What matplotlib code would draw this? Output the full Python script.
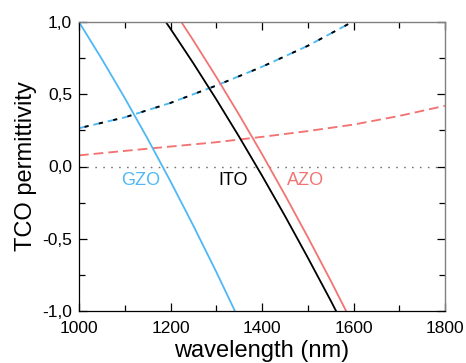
import matplotlib
matplotlib.use("Agg")
import matplotlib.pyplot as plt
from matplotlib.ticker import FixedLocator, FixedFormatter, MultipleLocator

plt.rcParams['font.family'] = ['Liberation Sans', 'DejaVu Sans']
plt.rcParams['lines.scale_dashes'] = False

# real parts (solid)
wl_gzo = [1000, 1050, 1100, 1150, 1200, 1250, 1300, 1350]
re_gzo = [1.0, 0.743, 0.474, 0.192, -0.103, -0.41, -0.729, -1.061]
wl_ito = [1150, 1200, 1250, 1300, 1350, 1400, 1450, 1500, 1550, 1600]
re_ito = [1.183, 0.953, 0.714, 0.465, 0.206, -0.063, -0.341, -0.63, -0.927, -1.235]
wl_azo = [1200, 1250, 1300, 1350, 1400, 1450, 1500, 1550, 1600]
re_azo = [1.115, 0.872, 0.62, 0.358, 0.086, -0.196, -0.488, -0.789, -1.101]

# imaginary parts (dashed)
wl_im = [1000, 1100, 1200, 1300, 1400, 1500, 1600, 1700, 1800]
im_gzo = [0.265, 0.34, 0.44, 0.56, 0.69, 0.835, 1.005, 1.2, 1.42]
im_ito = [0.265, 0.34, 0.44, 0.56, 0.69, 0.835, 1.005, 1.2, 1.42]
im_azo = [0.077, 0.108, 0.138, 0.168, 0.205, 0.245, 0.29, 0.35, 0.42]

labels = ["GZO", "ITO", "AZO"]
label_wl = [1135, 1337, 1496]
label_y = [-0.095, -0.095, -0.095]

xticks = [1000, 1200, 1400, 1600, 1800]
yticks = [-1.0, -0.5, 0.0, 0.5, 1.0]
ytick_labels = ["-1,0", "-0,5", "0,0", "0,5", "1,0"]

blue = "#4db8f5"
red = "#f27372"
black = "#000000"

fig = plt.figure(figsize=(4.66, 3.63), dpi=100)
ax = fig.add_axes([79/466, 52/363, 366/466, 289/363])

ax.axhline(0, color="#777777", lw=1.0, ls=(0, (1.2, 4.5)), zorder=1)

ax.plot(wl_im, im_azo, color=red, lw=1.35, ls=(0, (7.0, 3.6)))
ax.plot(wl_im, im_gzo, color=blue, lw=1.35, ls=(0, (7.0, 3.6)))
ax.plot(wl_im, im_ito, color=black, lw=1.35, ls=(6.5, (3.0, 7.6)))

ax.plot(wl_gzo, re_gzo, color=blue, lw=1.3)
ax.plot(wl_ito, re_ito, color=black, lw=1.3)
ax.plot(wl_azo, re_azo, color=red, lw=1.3)

colors = [blue, black, red]
for t, x, y, c in zip(labels, label_wl, label_y, colors):
    ax.text(x, y, t, color=c, fontsize=13, ha="center", va="center")

ax.set_xlim(1000, 1800)
ax.set_ylim(-1.0, 1.0)
ax.xaxis.set_major_locator(FixedLocator(xticks))
ax.xaxis.set_minor_locator(MultipleLocator(100))
ax.yaxis.set_major_locator(FixedLocator(yticks))
ax.yaxis.set_major_formatter(FixedFormatter(ytick_labels))
ax.yaxis.set_minor_locator(MultipleLocator(0.25))

ax.tick_params(which="both", direction="in", top=True, right=True, labelsize=12.5,
               width=0.9, color="black")
ax.tick_params(which="major", length=6)
ax.tick_params(which="minor", length=4)
ax.tick_params(axis="x", which="major", pad=7)
ax.tick_params(axis="y", which="major", pad=5)

for s in ["left", "bottom"]:
    ax.spines[s].set_color("black")
    ax.spines[s].set_linewidth(0.9)
for s in ["top", "right"]:
    ax.spines[s].set_color("#808080")
    ax.spines[s].set_linewidth(1.0)

ax.set_xlabel("wavelength (nm)", fontsize=17, labelpad=3)
ax.set_ylabel("TCO permittivity", fontsize=17, labelpad=4)

fig.savefig("out.png", dpi=100)
